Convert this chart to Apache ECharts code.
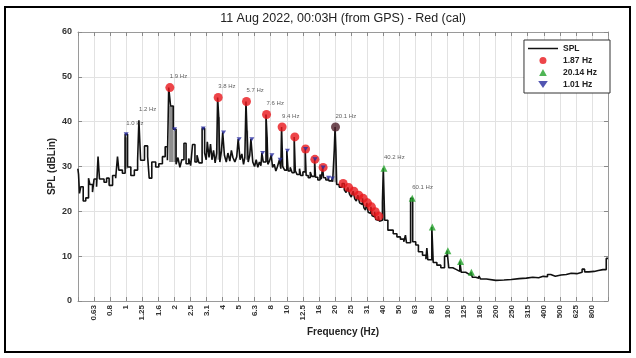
<!DOCTYPE html>
<html><head><meta charset="utf-8">
<script src="https://cdn.jsdelivr.net/npm/echarts@6/dist/echarts.min.js"></script>
<style>html,body{margin:0;padding:0;background:#fff}#c{width:636px;height:358px}</style>
</head><body><div id="c"></div>
<script>
// 1/3-octave tick labels (positions are bands -2..29, i.e. 10*log10(f))
const bandLabels = ['0.63','0.8','1','1.25','1.6','2','2.5','3.1','4','5','6.3','8','10','12.5','16','20','25','31','40','50','63','80','100','125','160','200','250','315','400','500','625','800'];

// SPL spectrum (stairs): bin start frequency (Hz) and level (dB)
const splFreq = [0.500,0.505,0.512,0.522,0.540,0.560,0.583,0.594,0.617,0.631,0.654,0.668,0.682,0.728,0.755,0.783,0.823,0.860,0.883,0.900,0.947,0.985,1.020,1.069,1.124,1.178,1.200,1.230,1.300,1.360,1.391,1.444,1.527,1.597,1.681,1.749,1.806,1.840,1.890,1.965,2.045,2.100,2.160,2.220,2.290,2.360,2.450,2.520,2.590,2.680,2.760,2.840,2.970,3.080,3.150,3.200,3.280,3.350,3.420,3.500,3.580,3.660,3.710,3.770,3.830,3.920,3.990,4.090,4.200,4.300,4.420,4.520,4.620,4.750,4.880,4.980,5.120,5.250,5.380,5.480,5.570,5.650,5.750,5.880,5.980,6.140,6.300,6.450,6.600,6.750,6.900,7.000,7.140,7.420,7.540,7.620,7.800,8.000,8.160,8.350,8.550,8.750,9.000,9.180,9.280,9.430,9.700,10.00,10.20,10.50,10.80,11.12,11.30,11.60,12.00,12.20,12.60,13.02,13.20,13.60,14.00,14.30,14.90,15.10,15.60,16.10,16.40,16.70,16.95,17.50,18.10,18.30,19.10,19.30,19.75,19.98,20.22,20.45,21.20,22.10,22.80,23.40,24.00,24.60,25.20,25.90,26.50,27.10,27.70,28.40,29.00,29.60,30.20,30.90,31.50,32.10,32.80,33.40,34.00,34.70,35.20,35.80,36.50,37.10,37.70,38.60,39.40,39.90,40.70,42.60,46.00,48.50,51.00,53.50,54.80,55.60,59.00,60.80,63.50,66.00,70.00,73.50,74.50,75.50,80.00,81.60,86.00,91.00,96.00,99.50,102.0,108.0,114.0,119.5,122.0,130.0,136.0,140.0,143.0,150.0,157.0,161.0,175.0,200.0,225.0,250.0,280.0,310.0,340.0,370.0,395.0,420.0,440.0,470.0,510.0,550.0,590.0,640.0,690.0,715.0,760.0,820.0,870.0,930.0,975.0,1000];
const splDb = [29.5,28.3,24.0,25.5,22.3,23.0,27.4,26.0,24.3,27.2,25.5,32.2,27.2,26.5,27.4,25.8,28.0,27.4,32.2,29.2,28.5,37.2,29.9,28.0,29.2,31.4,40.3,31.4,34.6,32.2,27.4,31.0,29.9,30.6,32.2,34.4,31.4,47.6,43.5,38.3,30.5,32.0,29.8,31.5,35.2,30.6,31.8,30.2,34.9,31.0,32.5,30.8,38.5,33.0,31.5,35.5,32.0,35.0,31.5,33.6,30.8,33.0,45.4,41.0,31.0,33.5,37.6,32.5,31.0,33.0,31.2,33.6,32.0,31.0,32.2,36.1,31.5,32.8,30.5,32.0,44.5,38.0,31.0,32.5,36.1,31.0,30.0,31.5,29.8,31.0,30.2,33.0,31.0,41.6,36.5,30.5,31.2,32.5,29.8,30.5,29.0,30.0,31.5,29.5,38.8,30.0,29.2,33.5,29.0,29.8,28.6,36.6,29.0,28.2,29.5,28.0,28.8,33.9,28.0,27.5,28.8,27.8,31.6,27.6,27.0,28.2,27.2,29.8,27.5,27.0,27.5,26.8,27.3,26.6,33.6,38.8,33.6,26.0,25.4,26.2,24.8,24.2,25.3,23.8,23.2,24.5,22.8,22.3,23.6,21.9,21.5,22.9,20.8,20.3,21.9,19.8,19.5,21.0,19.0,18.8,19.9,18.2,18.0,18.9,17.8,18.0,22.0,29.6,18.0,15.8,15.0,14.3,13.8,13.2,14.7,13.0,22.9,13.2,12.5,11.0,10.2,9.3,11.8,9.2,16.5,8.6,8.0,7.4,10.0,11.2,7.4,7.0,6.6,8.8,6.4,6.0,5.8,6.4,5.3,5.1,5.6,4.9,4.6,4.7,4.8,5.0,5.1,5.3,5.2,5.5,5.4,5.9,5.5,5.8,5.9,6.2,6.1,6.4,7.1,6.5,6.6,6.8,7.0,7.0,9.5,9.5];

// Gray peak bodies (shaded bins under the strongest peaks)
const bodyF0  = [0.975,1.85,1.97,3.70,5.57,7.42,19.80,39.50];
const bodyF1  = [1.020,1.965,2.045,3.83,5.75,7.62,20.22,40.70];
const bodyTop = [36.5,43.5,38.0,41.0,38.0,36.5,33.6,22.0];
const bodyBot = [29.5,31.0,31.0,31.5,31.5,31.0,26.5,18.0];

// Harmonic peak markers
const h187Freq = [1.87,3.74,5.61,7.48,9.35,11.22,13.09,14.96,16.83,22.44,24.31,26.18,28.05,29.92,31.79,33.66,35.53,37.40];
const h187Db   = [47.6,45.4,44.5,41.6,38.8,36.6,33.9,31.6,29.8,26.2,25.3,24.5,23.6,22.9,21.9,21.0,19.9,18.9];
const h2014Freq = [40.28,60.42,80.56,100.7,120.8,141.0];
const h2014Db   = [29.6,22.9,16.5,11.2,8.8,6.4];
const h101Freq = [1.0,2.0,3.02,4.04,5.05,6.06,7.07,8.08,9.09,10.1,13.1,15.0,16.85,18.2,19.2];
const h101Db   = [37.2,38.3,38.5,37.6,36.1,36.1,33.0,32.5,31.5,33.5,33.9,31.6,29.8,27.5,27.3];
const mainPeakFreq = [20.1];
const mainPeakDb = [38.8];

// Peak annotations
const noteFreq = [1.0,1.2,1.87,3.74,5.61,7.48,9.35,20.1,40.28,60.42];
const noteDb   = [37.2,40.3,47.6,45.4,44.5,41.6,38.8,38.8,29.6,22.9];
const noteText = ['1.0 Hz','1.2 Hz','1.9 Hz','3.8 Hz','5.7 Hz','7.6 Hz','9.4 Hz','20.1 Hz','40.2 Hz','60.1 Hz'];

const titleText = '11 Aug 2022, 00:03H (from GPS) - Red (cal)';

const band = f => 10 * Math.log10(f);
const pairs = (fs, vs) => fs.map((f, i) => [band(f), vs[i]]);
const FONT = '"Liberation Sans", Arial, Helvetica, sans-serif';

const chart = echarts.init(document.getElementById('c'), null, {renderer: 'canvas'});
const boxAxis = {onZero: false, lineStyle: {color: '#9a9a9a', width: 1}};
const tick = {show: true, inside: true, length: 4, lineStyle: {color: '#8a8a8a'}};
chart.setOption({
  animation: false,
  backgroundColor: '#fff',
  textStyle: {fontFamily: FONT},
  grid: {left: 78, right: 28, top: 32, bottom: 57},
  xAxis: [{
    type: 'value', min: -3, max: 30, interval: 1,
    name: 'Frequency (Hz)', nameLocation: 'middle', nameGap: 26, nameMoveOverlap: false,
    nameTextStyle: {fontSize: 10, fontWeight: 'bold', color: '#222', fontFamily: FONT},
    axisLine: boxAxis, axisTick: tick,
    axisLabel: {rotate: 90, fontSize: 8, fontWeight: 'bold', color: '#333', margin: 4, fontFamily: FONT,
      formatter: v => { const i = Math.round(v) + 2; return (i >= 0 && i < bandLabels.length) ? bandLabels[i] : ''; }},
    splitLine: {show: true, lineStyle: {color: '#e2e2e2', width: 1}}
  }, {
    type: 'value', position: 'top', min: -3, max: 30, interval: 1,
    axisLine: boxAxis, axisTick: tick, axisLabel: {show: false}, splitLine: {show: false}
  }],
  yAxis: [{
    type: 'value', min: 0, max: 60, interval: 10,
    name: 'SPL (dBLin)', nameLocation: 'middle', nameGap: 21, nameMoveOverlap: false,
    nameTextStyle: {fontSize: 10, fontWeight: 'bold', color: '#222', fontFamily: FONT},
    axisLine: Object.assign({show: true}, boxAxis), axisTick: tick,
    axisLabel: {fontSize: 9, fontWeight: 'bold', color: '#333', margin: 6, fontFamily: FONT},
    splitLine: {show: true, lineStyle: {color: '#e2e2e2', width: 1}}
  }, {
    type: 'value', position: 'right', min: 0, max: 60, interval: 10,
    axisLine: Object.assign({show: true}, boxAxis), axisTick: tick, axisLabel: {show: false}, splitLine: {show: false}
  }],
  legend: {
    data: [
      {name: 'SPL', icon: 'path://M0,0 H60 V3 H0 Z'},
      {name: '1.87 Hz', icon: 'circle'},
      {name: '20.14 Hz', icon: 'path://M0,10 L5.5,0 L11,10 Z'},
      {name: '1.01 Hz', icon: 'path://M0,0 L11,0 L5.5,8 Z', symbolRotate: 0}
    ],
    symbolKeepAspect: true,
    orient: 'vertical', right: 26, top: 40,
    itemWidth: 30, itemHeight: 7, itemGap: 3,
    padding: [4, 13, 4, 4],
    borderColor: '#333', borderWidth: 1, backgroundColor: '#fff',
    textStyle: {fontSize: 8.5, fontWeight: 'bold', color: '#222', fontFamily: FONT}
  },
  graphic: [
    {type: 'text', z: 10,
     style: {text: titleText, x: 343, y: 19, align: 'center', verticalAlign: 'middle', fontSize: 12.5, fill: '#222', fontFamily: FONT}},
    {type: 'rect', z: 10, shape: {x: 5, y: 7, width: 625, height: 345}, style: {fill: null, stroke: '#000', lineWidth: 2}}
  ],
  series: [
    {name: 'body', type: 'custom', z: 1, silent: true,
     data: bodyF0.map((f, i) => [band(f), band(bodyF1[i]), bodyTop[i], bodyBot[i]]),
     encode: {x: [0, 1], y: [2, 3]},
     renderItem: (params, api) => {
       const p0 = api.coord([api.value(0), api.value(2)]);
       const p1 = api.coord([api.value(1), api.value(3)]);
       return {type: 'rect', shape: {x: p0[0], y: p0[1], width: p1[0] - p0[0], height: p1[1] - p0[1]},
               style: {fill: '#8e8e8e'}};
     }},
    {name: 'SPL', type: 'line', step: 'end', data: pairs(splFreq, splDb), symbol: 'none', showSymbol: false,
     lineStyle: {color: '#111', width: 1.6}, itemStyle: {color: '#111'}, z: 2},
    {name: '1.87 Hz', type: 'scatter', data: pairs(h187Freq, h187Db), symbol: 'circle', symbolSize: 9,
     itemStyle: {color: '#e8161b'}, z: 3},
    {name: '20.14 Hz', type: 'scatter', data: pairs(h2014Freq, h2014Db), symbol: 'triangle', symbolSize: 7,
     itemStyle: {color: '#23a32b'}, z: 3},
    {name: '1.01 Hz', type: 'scatter', data: pairs(h101Freq, h101Db), symbol: 'triangle', symbolRotate: 180, symbolSize: [5, 4],
     itemStyle: {color: '#272b9e'}, z: 4},
    {name: 'main', type: 'scatter', data: pairs(mainPeakFreq, mainPeakDb), symbol: 'circle', symbolSize: 9,
     itemStyle: {color: '#4e1f2b'}, z: 4},
    {name: 'notes', type: 'scatter', data: noteFreq.map((f, i) => [band(f), noteDb[i], noteText[i]]),
     symbolSize: 0, silent: true, z: 5,
     label: {show: true, position: 'top', distance: 8, align: 'left', fontSize: 6, color: '#333', fontFamily: FONT,
       formatter: p => p.data[2]}}
  ]
});
</script></body></html>
